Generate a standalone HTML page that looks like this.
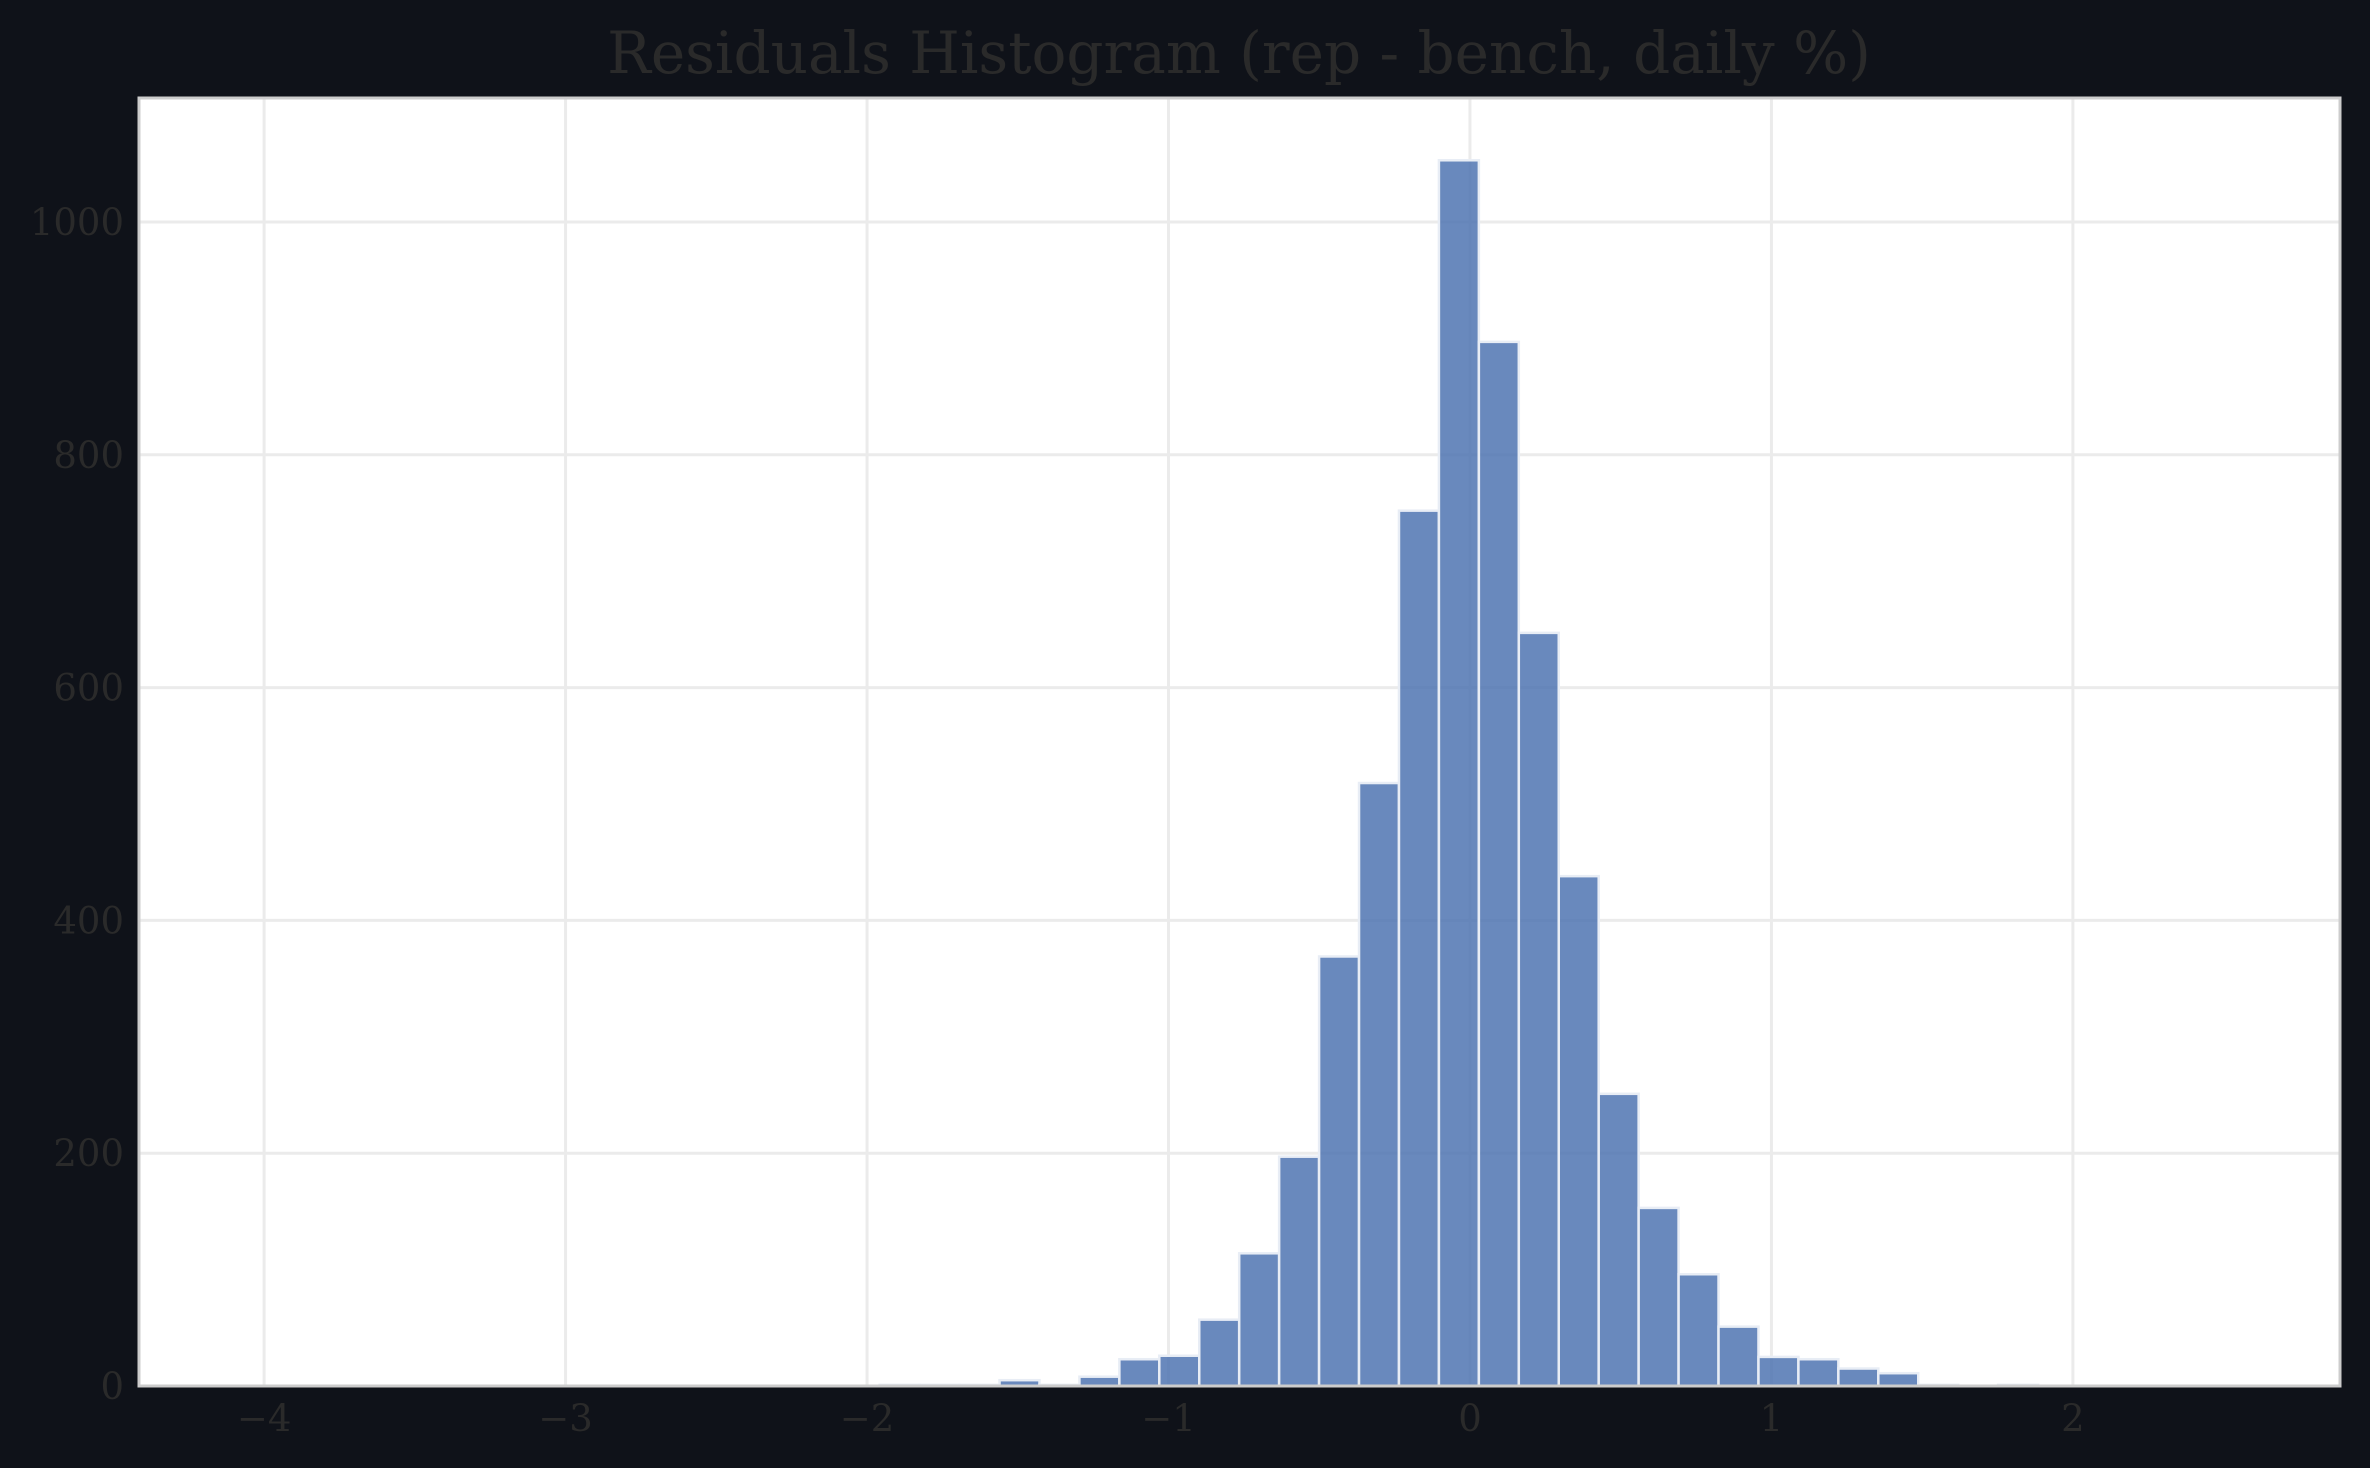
<!DOCTYPE html>
<html><head><meta charset="utf-8"><style>
html,body{margin:0;padding:0;background:#0f1219;}
svg{display:block;}
text{font-family:"DejaVu Serif","Liberation Serif",serif;fill:#2a2a2a;}
</style></head><body>
<svg id="chart" width="2370" height="1468" viewBox="0 0 2370 1468" xmlns="http://www.w3.org/2000/svg">
<rect x="0" y="0" width="2370" height="1468" fill="#0f1219"/>
<text x="1239" y="73" font-size="58" text-anchor="middle">Residuals Histogram (rep - bench, daily %)</text>
<rect x="139" y="98" width="2201" height="1288" fill="#ffffff"/>
<g id="grid"></g>
<g id="bars"></g>
<rect x="139" y="98" width="2201" height="1288" fill="none" stroke="#cccccc" stroke-width="3"/>
<g id="ticks"></g>
</svg>
<script>
const binStart = -1.958;
const binWidth = 0.1325;
const counts = [1,1,1,5,1,8,23,26,57,114,197,369,518,752,1053,897,647,438,251,153,96,51,25,23,15,11,1,0,1];
const xTicks = [-4,-3,-2,-1,0,1,2];
const yTicks = [0,200,400,600,800,1000];
const xDomain = [-4.415, 2.886];
const yDomain = [0, 1106.5];

const L=139,R=2340,T=98,B=1386;
const xs = v => L + (v - xDomain[0])/(xDomain[1]-xDomain[0])*(R-L);
const ys = v => B - (v - yDomain[0])/(yDomain[1]-yDomain[0])*(B-T);
const NS="http://www.w3.org/2000/svg";
const grid=document.getElementById('grid'), bars=document.getElementById('bars'), ticks=document.getElementById('ticks');
function mk(tag, attrs){const e=document.createElementNS(NS,tag);for(const k in attrs)e.setAttribute(k,attrs[k]);return e;}

xTicks.forEach(t=>{
  const l=mk('line',{x1:xs(t),x2:xs(t),y1:T,y2:B,stroke:'#ebebeb','stroke-width':3});
  
  
  grid.appendChild(l);
  const tx=mk('text',{x:xs(t),y:1431,'font-size':37,'text-anchor':'middle'});
  tx.textContent=(t<0?'\u2212'+(-t):String(t));
  
  
  ticks.appendChild(tx);
});
yTicks.forEach(t=>{
  const l=mk('line',{x1:L,x2:R,y1:ys(t),y2:ys(t),stroke:'#ebebeb','stroke-width':3});
  
  
  grid.appendChild(l);
  const tx=mk('text',{x:124,y:ys(t)+13,'font-size':37,'text-anchor':'end'});
  tx.textContent=String(t);
  
  
  ticks.appendChild(tx);
});
counts.forEach((c,i)=>{
  const x0=binStart+i*binWidth, x1=x0+binWidth;
  const r=mk('rect',{x:xs(x0),y:ys(c),width:xs(x1)-xs(x0),height:ys(0)-ys(c),fill:'#4c72b0','fill-opacity':0.84,stroke:'#e8edf5','stroke-width':2.5});
  
  
  bars.appendChild(r);
});
</script>
</body></html>
